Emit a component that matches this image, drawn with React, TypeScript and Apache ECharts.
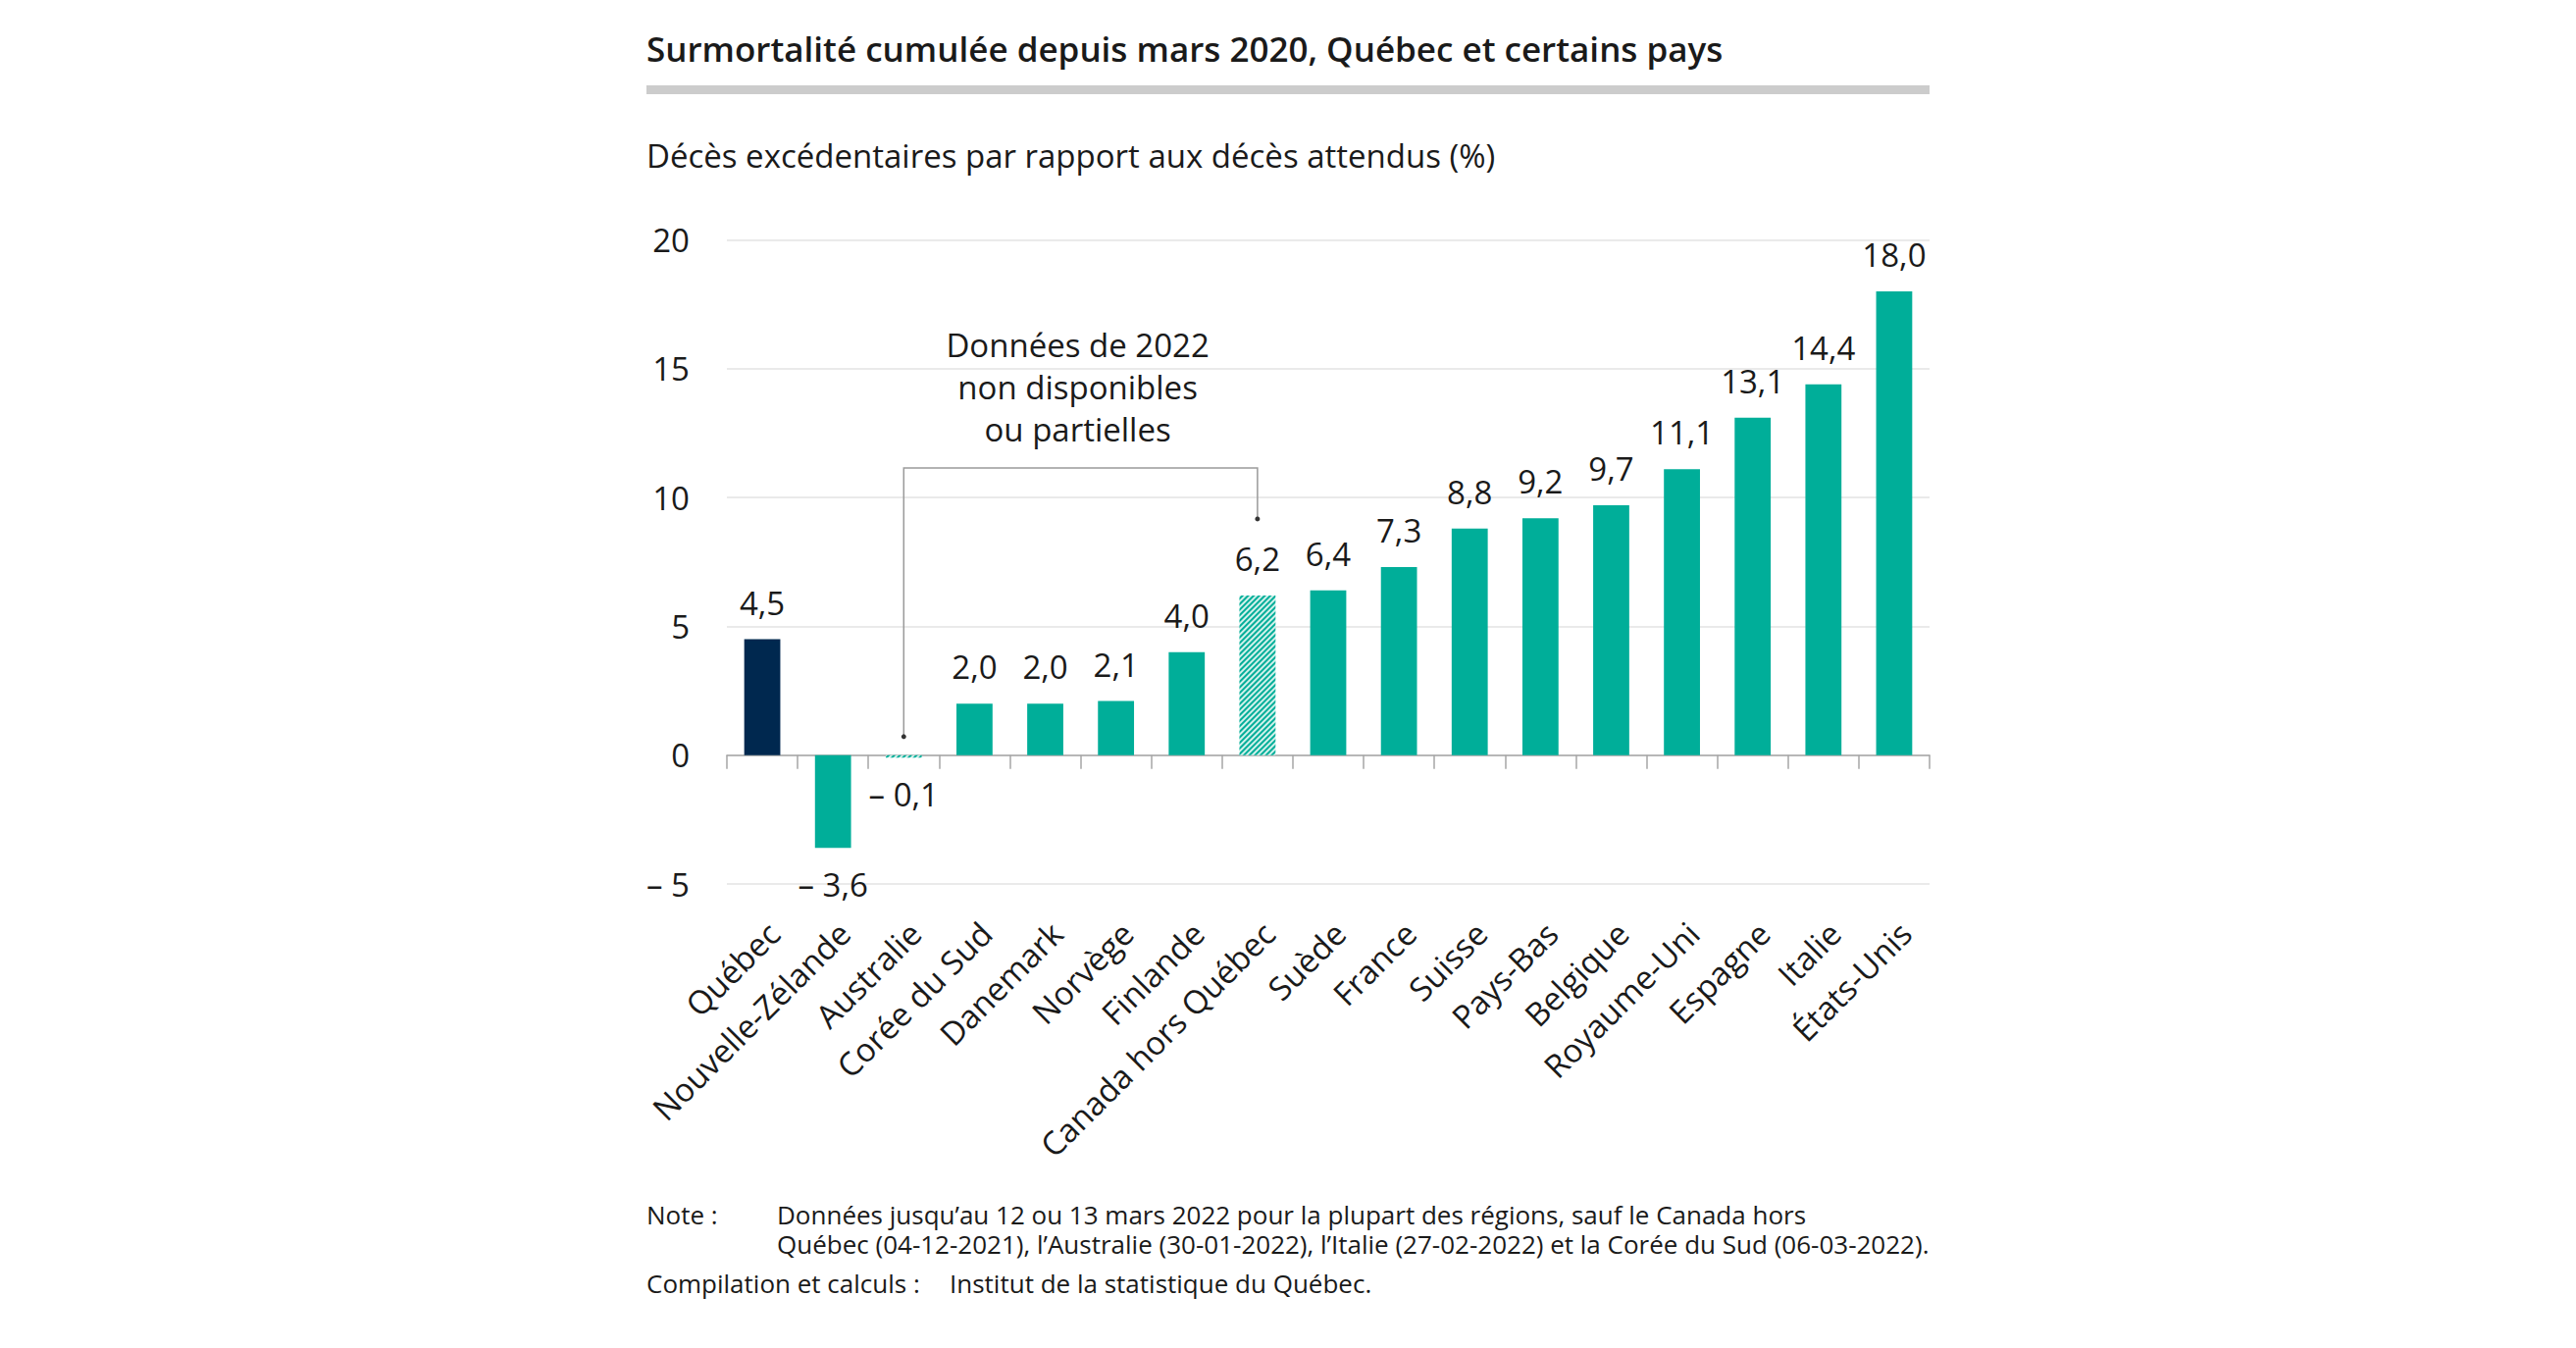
import React, { useEffect, useRef } from "react";
import * as echarts from "echarts";

const categories = [
  "Québec",
  "Nouvelle-Zélande",
  "Australie",
  "Corée du Sud",
  "Danemark",
  "Norvège",
  "Finlande",
  "Canada hors Québec",
  "Suède",
  "France",
  "Suisse",
  "Pays-Bas",
  "Belgique",
  "Royaume-Uni",
  "Espagne",
  "Italie",
  "États-Unis",
];
const values = [4.5, -3.6, -0.1, 2.0, 2.0, 2.1, 4.0, 6.2, 6.4, 7.3, 8.8, 9.2, 9.7, 11.1, 13.1, 14.4, 18.0];
const highlighted = ["Québec"];
const partialData = ["Australie", "Canada hors Québec"];

const yMin = -5;
const yMax = 20;
const yInterval = 5;

const titleText = "Surmortalité cumulée depuis mars 2020, Québec et certains pays";
const subtitleText = "Décès excédentaires par rapport aux décès attendus (%)";
const annotationLines = ["Données de 2022", "non disponibles", "ou partielles"];
const annotationValues = [15.9, 14.25, 12.6];
const bracketTop = 11.15;
const bracketLeftEnd = 0.72;
const bracketRightEnd = 9.17;
const noteLabel = "Note :";
const noteLines = [
  "Données jusqu’au 12 ou 13 mars 2022 pour la plupart des régions, sauf le Canada hors",
  "Québec (04-12-2021), l’Australie (30-01-2022), l’Italie (27-02-2022) et la Corée du Sud (06-03-2022).",
];
const sourceLabel = "Compilation et calculs :";
const sourceText = "Institut de la statistique du Québec.";

const TEAL = "#00ae99";
const NAVY = "#00284f";
const HATCH_BG = "#d3f1eb";
const FONT = "'Open Sans', 'Noto Sans', sans-serif";
const TEXT = "#1a1a1a";
const FS = 33;

function fmt(v: number, digits: number) {
  const s = Math.abs(v).toFixed(digits).replace(".", ",");
  return v < 0 ? "– " + s : s;
}

export default function App() {
  const ref = useRef<HTMLDivElement>(null);

  useEffect(() => {
    if (!ref.current) return;
    const chart = echarts.init(ref.current, undefined, { renderer: "svg" });

    const data = categories.map((c, i) => {
      const v = values[i];
      let itemStyle: any = { color: TEAL };
      if (highlighted.includes(c)) itemStyle = { color: NAVY };
      if (partialData.includes(c))
        itemStyle = {
          color: HATCH_BG,
          decal: {
            symbol: "rect",
            symbolSize: 1,
            color: TEAL,
            dashArrayX: [1, 0],
            dashArrayY: [1.6, 1.6],
            rotation: -Math.PI / 4,
          },
        };
      return {
        value: v,
        itemStyle,
        label: { position: v < 0 ? "bottom" : "top" },
      };
    });

    const noteFont = `26px ${FONT}`;

    const staticGraphic: any[] = [
      {
        type: "text",
        left: 659,
        top: 32,
        style: { text: titleText, font: `600 35px ${FONT}`, fill: TEXT },
      },
      {
        type: "rect",
        shape: { x: 659, y: 87, width: 1308, height: 9 },
        style: { fill: "#cccccc" },
      },
      {
        type: "text",
        left: 659,
        top: 142,
        style: { text: subtitleText, font: `${FS}px ${FONT}`, fill: TEXT },
      },
      {
        type: "text",
        left: 659,
        top: 1223,
        style: { text: noteLabel, font: noteFont, fill: TEXT, lineHeight: 30 },
      },
      {
        type: "text",
        left: 792,
        top: 1223,
        style: { text: noteLines.join("\n"), font: noteFont, fill: TEXT, lineHeight: 30 },
      },
      {
        type: "text",
        left: 659,
        top: 1293,
        style: { text: sourceLabel, font: noteFont, fill: TEXT, lineHeight: 30 },
      },
      {
        type: "text",
        left: 968,
        top: 1293,
        style: { text: sourceText, font: noteFont, fill: TEXT, lineHeight: 30 },
      },
    ];

    chart.setOption({
      animation: false,
      backgroundColor: "#ffffff",
      textStyle: { fontFamily: FONT },
      grid: { left: 741, right: 659, top: 244.6, bottom: 473, containLabel: false },
      xAxis: [
        {
          type: "category",
          data: categories,
          position: "bottom",
          axisLine: { show: false, onZero: false },
          axisTick: { show: false },
          axisLabel: {
            rotate: 45,
            align: "right",
            verticalAlign: "top",
            margin: 33,
            fontSize: FS,
            color: TEXT,
            fontFamily: FONT,
            interval: 0,
          },
          splitLine: { show: false },
        },
        {
          type: "category",
          data: categories,
          position: "bottom",
          axisLine: { show: true, onZero: true, lineStyle: { color: "#a6a6a6", width: 1.5 } },
          axisTick: { show: true, interval: 0, length: 14, lineStyle: { color: "#a6a6a6", width: 1.5 } },
          axisLabel: { show: false, interval: 0 },
          splitLine: { show: false },
        },
      ],
      yAxis: {
        type: "value",
        min: yMin,
        max: yMax,
        interval: yInterval,
        axisLine: { show: false },
        axisTick: { show: false },
        axisLabel: {
          margin: 38,
          fontSize: FS,
          color: TEXT,
          fontFamily: FONT,
          formatter: (v: number) => fmt(v, 0),
        },
        splitLine: { lineStyle: { color: "#e3e3e3", width: 1.5 } },
      },
      series: [
        {
          type: "bar",
          xAxisIndex: 0,
          data,
          barWidth: "51%",
          label: {
            show: true,
            distance: 21,
            fontSize: FS,
            color: TEXT,
            fontFamily: FONT,
            formatter: (p: any) => fmt(p.value, 1),
          },
        },
      ],
      graphic: staticGraphic,
    });

    const px = (cat: string | number, v: number) =>
      chart.convertToPixel({ xAxisIndex: 0, yAxisIndex: 0 }, [cat, v]) as number[];

    const lx = px(partialData[0], bracketLeftEnd);
    const ltop = px(partialData[0], bracketTop);
    const rtop = px(partialData[1], bracketTop);
    const rx = px(partialData[1], bracketRightEnd);
    const midX = (ltop[0] + rtop[0]) / 2 - 3;

    const dynamicGraphic: any[] = [
      {
        type: "polyline",
        shape: { points: [lx, ltop, rtop, rx] },
        style: { stroke: "#9a9a9a", lineWidth: 1.5, fill: null },
      },
      { type: "circle", shape: { cx: lx[0], cy: lx[1], r: 2.5 }, style: { fill: "#333" } },
      { type: "circle", shape: { cx: rx[0], cy: rx[1], r: 2.5 }, style: { fill: "#333" } },
      ...annotationLines.map((t, i) => {
        const p = px(partialData[0], annotationValues[i]);
        return {
          type: "text",
          x: midX,
          y: p[1] - 1,
          style: {
            text: t,
            font: `${FS}px ${FONT}`,
            fill: TEXT,
            textAlign: "center",
            textVerticalAlign: "middle",
          },
        };
      }),
    ];

    chart.setOption({ graphic: [...staticGraphic, ...dynamicGraphic] }, { replaceMerge: ["graphic"] });

    return () => chart.dispose();
  }, []);

  return (
    <div
      ref={ref}
      style={{ position: "fixed", left: 0, top: 0, width: 2626, height: 1374, background: "#fff" }}
    />
  );
}
